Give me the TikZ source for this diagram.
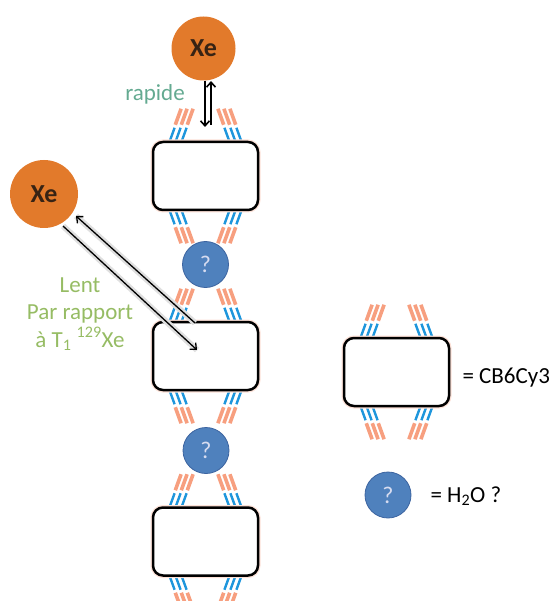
\documentclass[tikz,border=0pt]{standalone}
\usepackage{fontspec}
\setmainfont{Carlito}
\usetikzlibrary{arrows.meta,calc,backgrounds}

\definecolor{xeorange}{RGB}{226,122,43}
\definecolor{xetext}{RGB}{55,35,20}
\definecolor{qblue}{RGB}{79,129,189}
\definecolor{qedge}{RGB}{60,100,160}
\definecolor{qtext}{RGB}{215,220,240}
\definecolor{armblue}{RGB}{30,150,220}
\definecolor{armorange}{RGB}{245,135,95}
\definecolor{fastgreen}{RGB}{100,170,145}
\definecolor{slowgreen}{RGB}{150,188,100}

% arms above and below a CB6Cy3 box
\newcommand{\cbarms}[1]{%
  \foreach \s/\t in {-1/1,1/-1}
    \foreach \k in {24,30,36} {
      \draw[armb] ($(#1.north)+({\s*\k},1)$) -- ++({\t*5.1},-14);
      \draw[armo] ($(#1.north)+({\s*(\k-5.8)},-16)$) -- ++({\t*5.8},-16);
      \draw[armb] ($(#1.south)+({\s*\k},-1)$) -- ++({\t*5.1},14);
      \draw[armo] ($(#1.south)+({\s*(\k-5.8)},16)$) -- ++({\t*5.8},16);
    }}

\begin{document}
\begin{tikzpicture}[x=1pt, y=-1pt, >={Straight Barb[length=5pt,width=9pt]},
  cbbox/.style={draw=black, line width=2.5pt, rounded corners=10pt, fill=white,
    minimum width=105pt, minimum height=68pt, inner sep=0pt,
    preaction={draw=armorange!25, line width=5pt}},
  xeball/.style={circle, fill=xeorange, inner sep=0pt, text=xetext,
    font=\fontsize{26}{30}\selectfont\bfseries},
  qball/.style={circle, fill=qblue, draw=qedge, line width=0.8pt,
    minimum size=46pt, inner sep=0pt, text=qtext, font=\fontsize{24}{28}\selectfont},
  armb/.style={draw=armblue, line width=2.4pt},
  armo/.style={draw=armorange, line width=3.6pt, opacity=0.8},
  lbl/.style={font=\fontsize{23}{27.5}\selectfont},
  glow/.style={draw=gray!25, line width=6pt},
  slowarrow/.style={->, line width=1.3pt}]
  \useasboundingbox (0,0) rectangle (551,601);
  \clip (0,0) rectangle (551,601);

  % Xe atoms
  \node[xeball, minimum size=64pt] (xetop) at (203.5,48.5) {Xe};
  \node[xeball, minimum size=68pt] (xeleft) at (44,194) {Xe};

  % CB6Cy3 chain and water
  \node[cbbox] (cb1) at (205.5,176) {};
  \node[cbbox] (cb2) at (205.5,356) {};
  \node[cbbox] (cb3) at (205.5,541.5) {};
  \node[qball] (q1) at (205.5,264.5) {?};
  \node[qball] (q2) at (206,450.5) {?};

  % Key
  \node[cbbox] (cbkey) at (396.5,372) {};
  \node[qball] (qkey) at (388,495) {?};
  \node[lbl, anchor=base west] (cbname) at (459,383) {= CB6Cy3};
  \node[lbl, anchor=base west] (qname) at (427,502) {= H\textsubscript{2}O ?};

  \begin{scope}[on background layer]
    \cbarms{cb1}
    \cbarms{cb2}
    \cbarms{cb3}
    \cbarms{cbkey}
  \end{scope}

  % Fast exchange
  \coordinate (fastdown) at (205,127);
  \coordinate (fastbase) at (211,125);
  \coordinate (fastup) at (211,81);
  \draw[->, line width=1.6pt] (xetop.south -| fastdown) -- (fastdown);
  \draw[->, line width=1.6pt] (fastbase) -- (fastup);
  \node[lbl, text=fastgreen, anchor=base] (rapide) at (155,101) {rapide};

  % Slow exchange
  \coordinate (slowout) at (195,323);
  \coordinate (slowouttip) at (76,216);
  \coordinate (slowin) at (63,226);
  \coordinate (slowintip) at (197,350);
  \draw[glow] (slowout) -- (slowouttip);
  \draw[glow] (slowin) -- (slowintip);
  \draw[slowarrow] (slowout) -- (slowouttip);
  \draw[slowarrow] (slowin) -- (slowintip);
  \node[lbl, text=slowgreen, align=center] (lent) at (80,314)
    {Lent\\Par rapport\\à T\textsubscript{1} \textsuperscript{129}Xe};
\end{tikzpicture}
\end{document}
